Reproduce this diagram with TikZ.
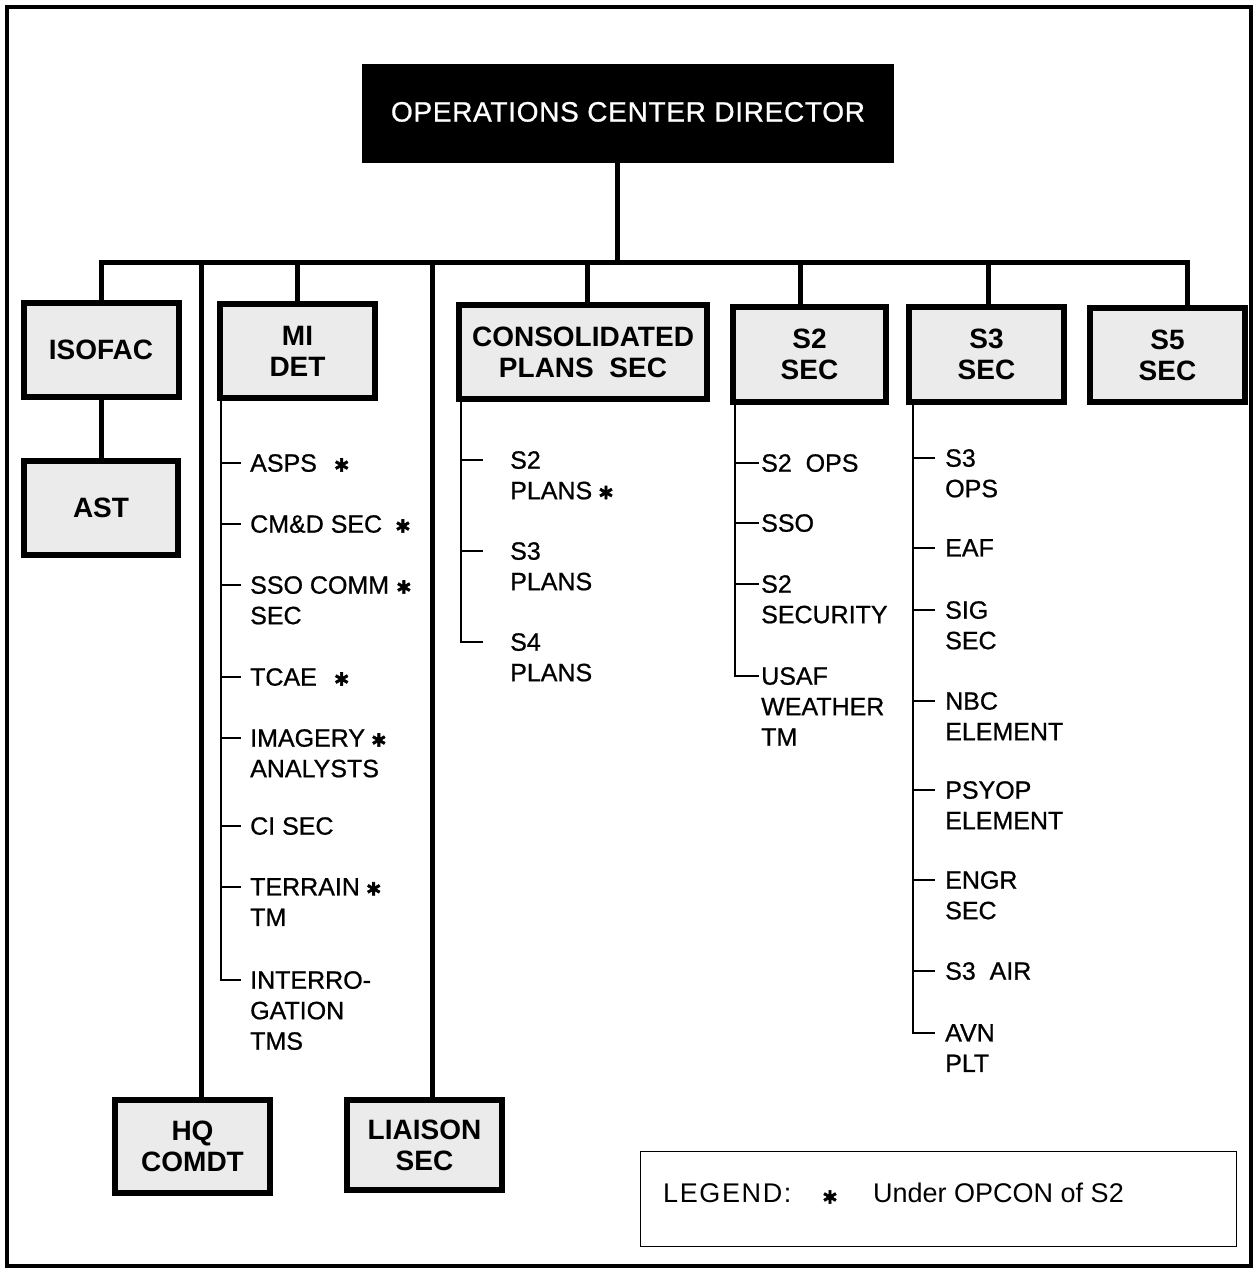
\documentclass[tikz,border=0pt]{standalone}
\usepackage{fontspec}
\setmainfont{Liberation Sans}
\newfontfamily\symf[FakeBold=2.5]{DejaVu Sans Bold}
\newcommand\opc{{\fontsize{21}{21}\selectfont\symf\char"2217}}
\begin{document}
\begin{tikzpicture}[x=1pt,y=-1pt,
  box/.style={draw, line width=6pt, fill=black!8, inner sep=0pt, align=center,
    font=\fontsize{28}{31}\selectfont\bfseries},
  item/.style={anchor=north west, inner sep=0pt, align=left,
    font=\fontsize{25}{30.5}\selectfont\addfontfeatures{FakeBold=0.8}},
  legtext/.style={anchor=west, inner sep=0pt, font=\fontsize{27}{30}\selectfont},
  bus/.style={line width=5pt},
  thinl/.style={line width=1.4pt}]
\useasboundingbox (0,0) rectangle (1257,1272);
\draw[line width=4pt] (7,7) rectangle (1251,1266);

% top
\node[fill=black, text=white, minimum width=532pt, minimum height=99pt, inner sep=0pt,
  font=\fontsize{28}{31}\selectfont\addfontfeatures{LetterSpace=2.5,FakeBold=0.8}] (ocd) at (628,113.5)
  {\raisebox{3.5pt}{OPERATIONS CENTER DIRECTOR}};

% boxes
\node[box, minimum width=155pt, minimum height=94pt] (isofac) at (101,350) {ISOFAC};
\node[box, minimum width=154pt, minimum height=94pt] (ast) at (101,508) {AST};
\node[box, minimum width=155pt, minimum height=94pt] (midet) at (297.5,351) {MI\\DET};
\node[box, minimum width=155pt, minimum height=93pt] (hq) at (192.5,1146.5) {HQ\\COMDT};
\node[box, minimum width=155pt, minimum height=90pt] (liaison) at (424.5,1145) {LIAISON\\SEC};
\node[box, minimum width=248pt, minimum height=94pt] (consol) at (583,352) {CONSOLIDATED\\PLANS\ \ SEC};
\node[box, minimum width=153pt, minimum height=95pt] (s2) at (809.5,354.5) {S2\\SEC};
\node[box, minimum width=155pt, minimum height=95pt] (s3) at (986.5,354.5) {S3\\SEC};
\node[box, minimum width=155pt, minimum height=94pt] (s5) at (1167.5,355) {S5\\SEC};

% bus
\coordinate (dIso) at (101,262);
\coordinate (dHQ) at (201,262);
\coordinate (dMI) at (297,262);
\coordinate (dLia) at (432,262);
\coordinate (dTop) at (617,262);
\coordinate (dCon) at (587,262);
\coordinate (dS2) at (800,262);
\coordinate (dS3) at (988,262);
\coordinate (dS5) at (1187,262);
\draw[bus] (dIso |- isofac.north) -- (dIso) -- (dS5) -- (dS5 |- s5.north);
\draw[bus] (dTop |- ocd.south) -- (dTop);
\draw[bus] (dHQ) -- (dHQ |- hq.north);
\draw[bus] (dMI) -- (dMI |- midet.north);
\draw[bus] (dLia) -- (dLia |- liaison.north);
\draw[bus] (dCon) -- (dCon |- consol.north);
\draw[bus] (dS2) -- (dS2 |- s2.north);
\draw[bus] (dS3) -- (dS3 |- s3.north);
\draw[bus] (isofac.south) -- (ast.north);

% MI DET list
\coordinate (mEnd) at (221,980);
\draw[thinl] (mEnd |- midet.south) -- (mEnd) -- ++(20,0);
\foreach \y/\t [count=\i] in {463/{ASPS\hspace{16pt}\opc},
  524/{CM\&D SEC\hspace{12pt}\opc},
  585/{SSO COMM\hspace{6pt}\opc\\SEC},
  677/{TCAE\hspace{16pt}\opc},
  738/{IMAGERY\hspace{5pt}\opc\\ANALYSTS},
  826/{CI SEC},
  887/{TERRAIN\hspace{5pt}\opc\\TM}} {
  \node[item] (mi\i) at (250,\y-9) {\t};
  \draw[thinl] (mEnd |- mi\i.north west) ++(0,9) -- ++(20,0);
}
\node[item] (mi8) at (250,971) {INTERRO-\\GATION\\TMS};

% CONSOLIDATED list
\coordinate (cEnd) at (461,642);
\draw[thinl] (cEnd |- consol.south) -- (cEnd) -- ++(22,0);
\foreach \y/\t [count=\i] in {460/{S2\\PLANS\hspace{5pt}\opc}, 551/{S3\\PLANS}} {
  \node[item] (cp\i) at (510,\y-9) {\t};
  \draw[thinl] (cEnd |- cp\i.north west) ++(0,9) -- ++(22,0);
}
\node[item] (cp3) at (510,633) {S4\\PLANS};

% S2 list
\coordinate (sEnd) at (735,676);
\draw[thinl] (sEnd |- s2.south) -- (sEnd) -- ++(24,0);
\foreach \y/\t [count=\i] in {463/{S2\ \ OPS}, 523/{SSO}, 584/{S2\\SECURITY}} {
  \node[item] (sa\i) at (761,\y-9) {\t};
  \draw[thinl] (sEnd |- sa\i.north west) ++(0,9) -- ++(24,0);
}
\node[item] (sa4) at (761,667) {USAF\\WEATHER\\TM};

% S3 list
\coordinate (tEnd) at (913,1033);
\draw[thinl] (tEnd |- s3.south) -- (tEnd) -- ++(22,0);
\foreach \y/\t [count=\i] in {458/{S3\\OPS}, 548/{EAF}, 610/{SIG\\SEC}, 701/{NBC\\ELEMENT},
  790/{PSYOP\\ELEMENT}, 880/{ENGR\\SEC}, 971/{S3\ \ AIR}} {
  \node[item] (tb\i) at (945,\y-9) {\t};
  \draw[thinl] (tEnd |- tb\i.north west) ++(0,9) -- ++(22,0);
}
\node[item] (tb8) at (945,1024) {AVN\\PLT};

% legend
\node[draw, line width=1.2pt, minimum width=596pt, minimum height=95pt, inner sep=0pt] (legend) at (938.5,1199) {};
\node[legtext, font=\fontsize{27}{30}\selectfont\addfontfeatures{LetterSpace=6}] (lg1) at (663,1193) {LEGEND:};
\node[inner sep=0pt] (lg2) at (830,1197) {\opc};
\node[legtext] (lg3) at (873,1193) {Under OPCON of S2};
\end{tikzpicture}
\end{document}
